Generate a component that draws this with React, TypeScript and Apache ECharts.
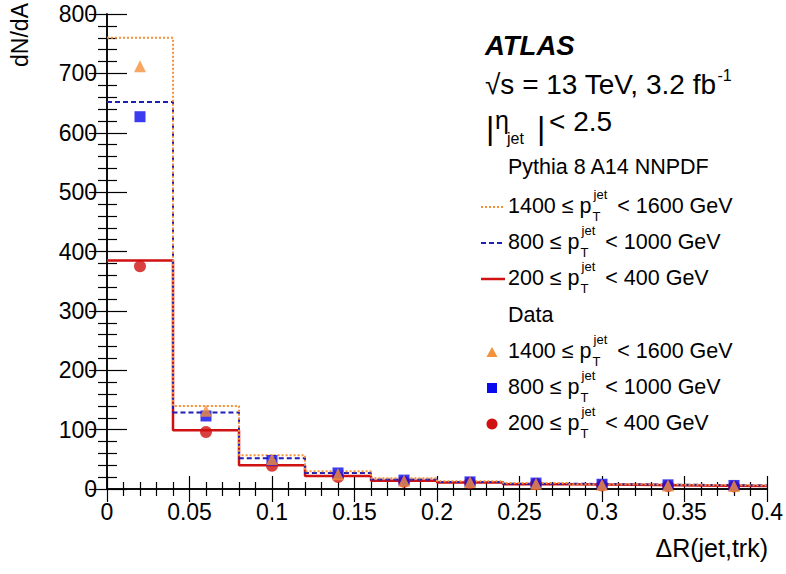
import React, { useEffect, useRef } from "react";
import * as echarts from "echarts";

const binEdges = [0, 0.04, 0.08, 0.12, 0.16, 0.2, 0.24, 0.28, 0.32, 0.36, 0.4];
const binCenters = [0.02, 0.06, 0.1, 0.14, 0.18, 0.22, 0.26, 0.3, 0.34, 0.38];
const mc1400 = [760, 140, 57, 30, 18, 13, 10, 8, 7, 6];
const mc800 = [652, 129, 52, 27, 16, 12, 9, 8, 7, 6];
const mc200 = [385, 99, 40, 22, 14, 11, 8, 7, 6, 5];
const data1400 = [712, 132, 50, 25, 14, 12, 9, 7, 6, 5];
const data800 = [627, 123, 48, 27, 15, 12, 10, 8, 7, 6];
const data200 = [375, 96, 39, 20, 12, 10, 8, 6, 5, 4];
const ptLabels = [
  ["1400", "1600"],
  ["800", "1000"],
  ["200", "400"],
];

const FONT = '"Liberation Sans", Arial, Helvetica, sans-serif';
const C_OR = "#f5913a";
const C_BL_LINE = "#1f1fb4";
const C_BL = "#0a0aee";
const C_RD = "#cf1111";
const LEG = 21.5;

function measure(text: string, size: number): number {
  const c = document.createElement("canvas");
  const ctx = c.getContext("2d")!;
  ctx.font = `${size}px ${FONT}`;
  return ctx.measureText(text).width;
}

function stepData(vals: number[]) {
  const out: number[][] = [];
  vals.forEach((v, i) => {
    out.push([binEdges[i], v]);
    out.push([binEdges[i + 1], v]);
  });
  return out;
}

function txt(text: string, x: number, y: number, size: number, extra: any = {}) {
  return {
    type: "text",
    x,
    y,
    silent: true,
    style: {
      text,
      fill: "#000",
      fontSize: size,
      fontFamily: FONT,
      verticalAlign: "middle",
      align: "left",
      lineHeight: size,
      ...extra,
    },
  };
}

function ptLine(x: number, y: number, lo: string, hi: string) {
  const pre = `${lo} ≤ p`;
  const wPre = measure(pre, LEG);
  const wJet = measure("jet", 13);
  const els: any[] = [];
  els.push(txt(pre, x, y, LEG, { lineHeight: 17 }));
  els.push(txt("jet", x + wPre + 2, y - 12, 13, { lineHeight: 10 }));
  els.push(txt("T", x + wPre + 1, y + 10, 13, { lineHeight: 10 }));
  els.push(txt(`< ${hi} GeV`, x + wPre + 2 + wJet + 10, y, LEG, { lineHeight: 17 }));
  return els;
}

export default function App() {
  const ref = useRef<HTMLDivElement>(null);
  useEffect(() => {
    document.body.style.margin = "0";
    const chart = echarts.init(ref.current!, null, { renderer: "svg" });
    const rows = [206, 242, 278];
    const drows = [351, 387, 423];
    const graphics: any[] = [];
    graphics.push(
      txt("ATLAS", 485, 45, 27.5, { fontWeight: "bold", fontStyle: "italic" })
    );
    const sqrtPart = "√s = 13 TeV, 3.2 fb";
    graphics.push(txt(sqrtPart, 485, 84, 28));
    graphics.push(txt("-1", 485 + measure(sqrtPart, 28) + 1, 75, 16));
    graphics.push(txt("|", 486, 128, 32, { lineHeight: 30 }));
    graphics.push(txt("η", 495, 120, 25, { lineHeight: 14 }));
    graphics.push(txt("jet", 507, 138, 16, { lineHeight: 12 }));
    graphics.push(txt("|", 537, 128, 32, { lineHeight: 30 }));
    graphics.push(txt("< 2.5", 549, 121, 28, { lineHeight: 22 }));
    graphics.push(txt("Pythia 8 A14 NNPDF", 508, 167, LEG));
    ptLabels.forEach((p, i) => {
      graphics.push(...ptLine(508, rows[i], p[0], p[1]));
      graphics.push(...ptLine(508, drows[i], p[0], p[1]));
    });
    // legend line samples
    graphics.push({
      type: "line",
      shape: { x1: 481, y1: rows[0] + 1, x2: 505, y2: rows[0] + 1 },
      style: { stroke: C_OR, lineWidth: 2, lineDash: [2, 2] },
    });
    graphics.push({
      type: "line",
      shape: { x1: 481, y1: rows[1] + 1, x2: 505, y2: rows[1] + 1 },
      style: { stroke: C_BL_LINE, lineWidth: 2, lineDash: [5, 3] },
    });
    graphics.push({
      type: "line",
      shape: { x1: 481, y1: rows[2] + 1, x2: 505, y2: rows[2] + 1 },
      style: { stroke: C_RD, lineWidth: 2.5 },
    });
    graphics.push(txt("Data", 508, 315, LEG));
    // legend markers
    graphics.push({
      type: "polygon",
      shape: {
        points: [
          [492, drows[0] - 4],
          [486.5, drows[0] + 6],
          [497.5, drows[0] + 6],
        ],
      },
      style: { fill: C_OR },
    });
    graphics.push({
      type: "rect",
      shape: { x: 487, y: drows[1] - 4, width: 10, height: 10 },
      style: { fill: C_BL },
    });
    graphics.push({
      type: "circle",
      shape: { cx: 492, cy: drows[2] + 1, r: 5.5 },
      style: { fill: C_RD },
    });
    const yl: any = txt("dN/dA", 20, 3, 23, { align: "right" });
    yl.rotation = Math.PI / 2;
    graphics.push(yl);
    graphics.push(txt("ΔR(jet,trk)", 768, 548, 25, { align: "right" }));

    const axisCommon = {
      axisLine: { show: true, lineStyle: { color: "#000", width: 1.5 } },
      splitLine: { show: false },
    };
    const labelStyle = { fontSize: 23, fontFamily: FONT, color: "#000" };

    chart.setOption({
      animation: false,
      grid: { left: 107, top: 14, width: 661, height: 475, containLabel: false },
      xAxis: [
        {
          type: "value",
          min: 0,
          max: 0.4,
          interval: 0.05,
          position: "bottom",
          ...axisCommon,
          axisTick: { show: true, inside: true, length: 13, lineStyle: { color: "#000", width: 1.2 } },
          minorTick: { show: true, splitNumber: 5, length: 7, lineStyle: { color: "#000", width: 1.2 } },
          axisLabel: {
            margin: 11,
            ...labelStyle,
            showMaxLabel: true,
            showMinLabel: true,
            formatter: (v: number) => String(+v.toFixed(2)),
          },
        },
        {
          type: "value",
          min: 0,
          max: 0.4,
          interval: 0.05,
          position: "top",
          ...axisCommon,
          axisTick: { show: true, inside: true, length: 13, lineStyle: { color: "#000", width: 1.2 } },
          minorTick: { show: true, splitNumber: 5, length: 7, lineStyle: { color: "#000", width: 1.2 } },
          axisLabel: { show: false },
        },
      ],
      yAxis: [
        {
          type: "value",
          min: 0,
          max: 800,
          interval: 100,
          position: "left",
          ...axisCommon,
          axisTick: { show: true, inside: true, length: 20, lineStyle: { color: "#000", width: 1.2 } },
          minorTick: { show: true, splitNumber: 5, length: 10, lineStyle: { color: "#000", width: 1.2 } },
          axisLabel: { margin: 10, ...labelStyle },
        },
        {
          type: "value",
          min: 0,
          max: 800,
          interval: 100,
          position: "right",
          ...axisCommon,
          axisTick: { show: true, inside: true, length: 18, lineStyle: { color: "#000", width: 1.2 } },
          minorTick: { show: true, splitNumber: 5, length: 9, lineStyle: { color: "#000", width: 1.2 } },
          axisLabel: { show: false },
        },
      ],
      series: [
        {
          type: "line",
          data: stepData(mc200),
          showSymbol: false,
          lineStyle: { color: C_RD, width: 2.5 },
          z: 2,
        },
        {
          type: "line",
          data: stepData(mc800),
          showSymbol: false,
          lineStyle: { color: C_BL_LINE, width: 2, type: [5, 3] },
          z: 3,
        },
        {
          type: "line",
          data: stepData(mc1400),
          showSymbol: false,
          lineStyle: { color: C_OR, width: 2, type: [2, 2] },
          z: 4,
        },
        {
          type: "scatter",
          data: binCenters.map((x, i) => [x, data200[i]]),
          symbol: "circle",
          symbolSize: 12,
          itemStyle: { color: C_RD },
          z: 5,
        },
        {
          type: "scatter",
          data: binCenters.map((x, i) => [x, data800[i]]),
          symbol: "rect",
          symbolSize: 11,
          itemStyle: { color: C_BL },
          z: 6,
        },
        {
          type: "scatter",
          data: binCenters.map((x, i) => [x, data1400[i]]),
          symbol: "triangle",
          symbolSize: 12,
          itemStyle: { color: C_OR },
          z: 7,
        },
      ],
      graphic: graphics,
    });
    return () => chart.dispose();
  }, []);
  return <div ref={ref} style={{ width: 786, height: 574 }} />;
}
